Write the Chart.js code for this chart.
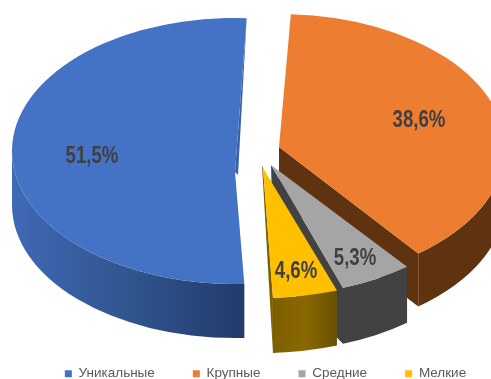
<!DOCTYPE html>
<html lang="ru">
<head>
<meta charset="utf-8">
<title>Доли сегментов</title>
<style>
  html, body { margin: 0; padding: 0; background: #ffffff; }
  canvas { display: block; }
</style>
<script src="https://cdn.jsdelivr.net/npm/chart.js@4/dist/chart.umd.min.js"></script>
</head>
<body>
<canvas id="chart" width="491" height="379"></canvas>
<script>
// Chart data
const categories = ['Уникальные', 'Крупные', 'Средние', 'Мелкие'];
const shares = [51.5, 38.6, 5.3, 4.6];

// Slice styling
const topColors = ['#4472C4', '#ED7D31', '#A5A5A5', '#FFC000'];
const sideStops = [
  ['#4069B6', '#31558F', '#223B6B'],
  ['#5F3210', '#5F3210', '#5F3210'],
  ['#424242', '#424242', '#424242'],
  ['#7D5F00', '#8A6800', '#6A5000']
];
const cutColors = ['#3A60A8', '#5F3210', '#424242', '#7D5F00'];

// Projected placement of each exploded slice: tilted disc ellipse, wedge tip,
// extrusion depth, cut-face lower edge and label anchor.
const sliceLayout = [
  { cx: 235, cy: 151, rx: 223, ry: 133, depth: 54, tipX: 235, tipY: 172, cutDx: 3, cutDy: 3, cutDepth: 0, labelX: 92, labelY: 157 },
  { cx: 279, cy: 148, rx: 226, ry: 134, depth: 53, tipX: 279, tipY: 147, cutDx: 0, cutDy: 53, cutDepth: 53, labelX: 419, labelY: 121 },
  { cx: 271.5, cy: 162, rx: 220, ry: 133, depth: 56, tipX: 271, tipY: 165, cutDx: 3, cutDy: 109, cutDepth: 56, labelX: 355, labelY: 259 },
  { cx: 263.5, cy: 162, rx: 226, ry: 136, depth: 55, tipX: 263, tipY: 168, cutDx: -1, cutDy: -3, cutDepth: 55, labelX: 296, labelY: 272 }
];

const startRotation = 177.6;
const labelFont = 'bold 23px "Liberation Sans", Arial, sans-serif';
const labelSqueeze = 0.81;
const legendShiftX = 20;
const legendRowY = 367;

function formatShare(value) {
  return value.toFixed(1).replace('.', ',') + '%';
}

// Moves the legend row off-centre and close to the bottom edge.
const legendPlacement = {
  id: 'legendPlacement',
  afterLayout(chart) {
    const legend = chart.legend;
    const dy = legendRowY - (legend.top + legend.options.labels.padding);
    legend.left += legendShiftX;
    legend.right += legendShiftX;
    legend.top += dy;
    legend.bottom += dy;
  }
};

// Draws the pie's arcs as an extruded, tilted disc using the angles Chart.js computed.
const solidSlices = {
  id: 'solidSlices',
  beforeDatasetDraw(chart, args) {
    const ctx = chart.ctx;
    const arcs = args.meta.data;
    const full = Math.PI * 2;
    arcs.forEach((arc, i) => {
      const s = sliceLayout[i];
      const a0 = arc.startAngle;
      const a1 = arc.endAngle;

      // Outer rim: only the part of the arc facing the viewer
      const turn = a1 > full ? full : 0;
      const rimA = Math.max(a0, turn);
      const rimB = Math.min(a1, turn + Math.PI);
      if (rimB > rimA) {
        const xA = s.cx + s.rx * Math.cos(rimB);
        const xB = s.cx + s.rx * Math.cos(rimA);
        const grad = ctx.createLinearGradient(Math.min(xA, xB), 0, Math.max(xA, xB), 0);
        grad.addColorStop(0, sideStops[i][0]);
        grad.addColorStop(0.5, sideStops[i][1]);
        grad.addColorStop(1, sideStops[i][2]);
        ctx.beginPath();
        ctx.ellipse(s.cx, s.cy, s.rx, s.ry, 0, rimA, rimB);
        ctx.ellipse(s.cx, s.cy + s.depth, s.rx, s.ry, 0, rimB, rimA, true);
        ctx.closePath();
        ctx.fillStyle = grad;
        ctx.fill();
      }

      // Cut face along the slice's closing edge
      const endX = s.cx + s.rx * Math.cos(a1);
      const endY = s.cy + s.ry * Math.sin(a1);
      ctx.beginPath();
      ctx.moveTo(s.tipX, s.tipY);
      ctx.lineTo(endX, endY);
      ctx.lineTo(endX, endY + s.cutDepth);
      ctx.lineTo(s.tipX + s.cutDx, s.tipY + s.cutDy);
      ctx.closePath();
      ctx.fillStyle = cutColors[i];
      ctx.fill();

      // Top face
      ctx.beginPath();
      ctx.moveTo(s.tipX, s.tipY);
      ctx.ellipse(s.cx, s.cy, s.rx, s.ry, 0, a0, a1);
      ctx.closePath();
      ctx.fillStyle = arc.options.backgroundColor;
      ctx.fill();
    });

    // Value labels above all slices
    arcs.forEach((arc, i) => {
      const s = sliceLayout[i];
      ctx.save();
      ctx.translate(s.labelX, s.labelY);
      ctx.scale(labelSqueeze, 1);
      ctx.font = labelFont;
      ctx.fillStyle = '#404040';
      ctx.textAlign = 'center';
      ctx.textBaseline = 'middle';
      ctx.fillText(formatShare(shares[i]), 0, 0);
      ctx.restore();
    });
    return false;
  }
};

new Chart(document.getElementById('chart'), {
  type: 'pie',
  data: {
    labels: categories,
    datasets: [{
      data: shares,
      backgroundColor: topColors,
      borderWidth: 0
    }]
  },
  options: {
    responsive: false,
    animation: false,
    rotation: startRotation,
    plugins: {
      tooltip: { enabled: false },
      legend: {
        position: 'bottom',
        labels: {
          boxWidth: 7,
          boxHeight: 7,
          padding: 38,
          color: '#595959',
          font: { family: '"Liberation Sans", Arial, sans-serif', size: 13.5 }
        }
      }
    }
  },
  plugins: [legendPlacement, solidSlices]
});
</script>
</body>
</html>
